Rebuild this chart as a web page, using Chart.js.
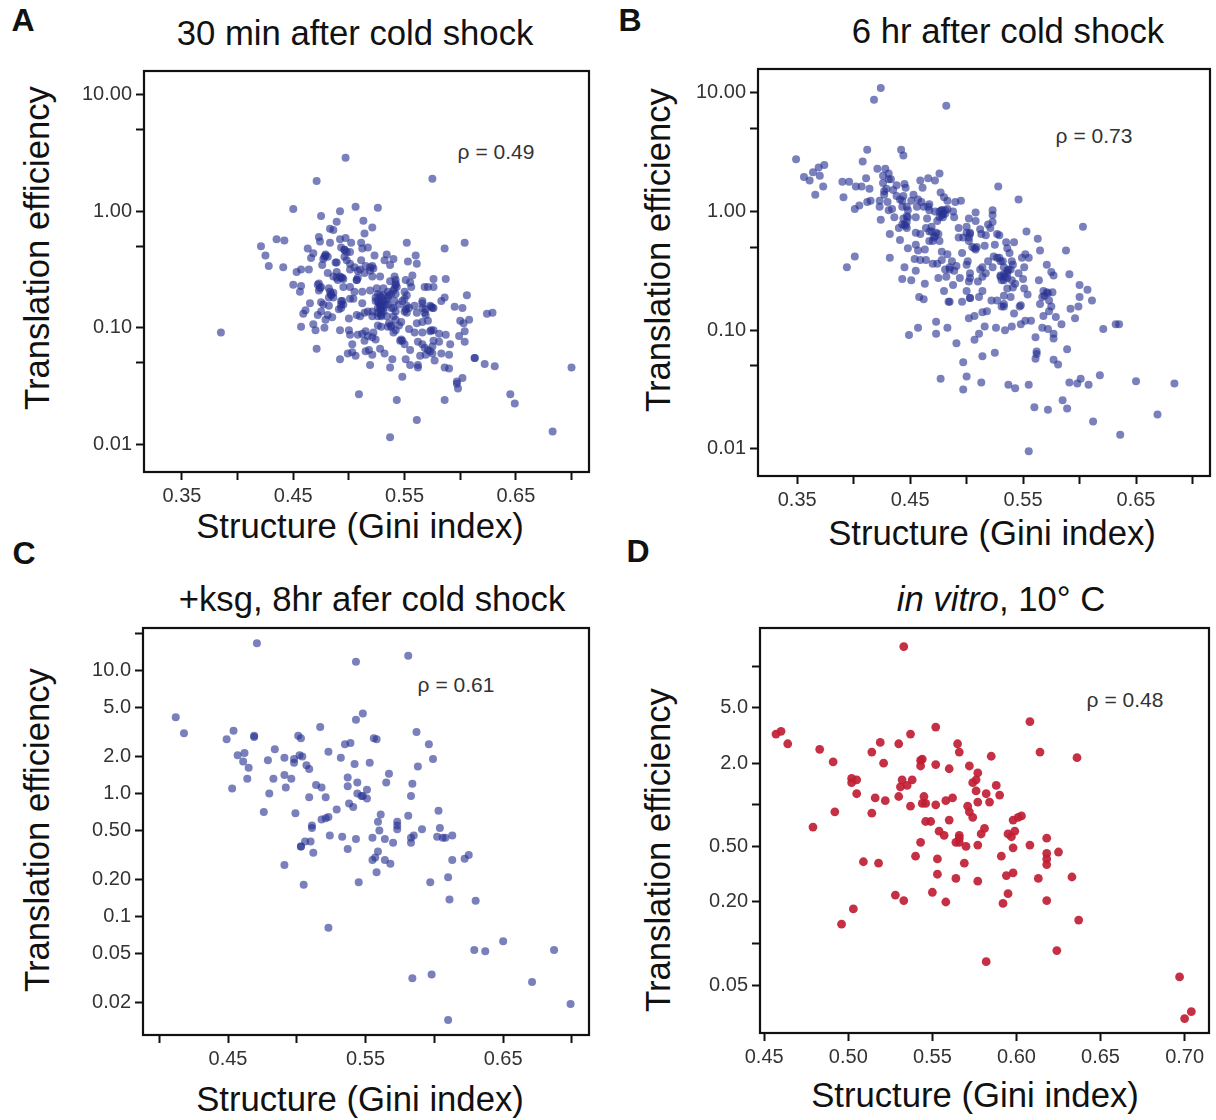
<!DOCTYPE html>
<html>
<head>
<meta charset="utf-8">
<script src="https://cdn.jsdelivr.net/npm/chart.js@4"></script>
<style>
  html, body { margin: 0; padding: 0; background: #fff; }
  body { position: relative; width: 1216px; height: 1120px; overflow: hidden; font-family: "Liberation Sans", Arial, sans-serif; color: #111; }
  canvas { position: absolute; }
  .txt { position: absolute; white-space: nowrap; transform: translate(-50%, -50%); }
  .letter { font-size: 32px; font-weight: bold; }
  .big { font-size: 34.7px; }
  .side { font-size: 34.7px; transform: translate(-50%, -50%) rotate(-90deg); }
  .rho { font-size: 21px; color: #333; }
</style>
</head>
<body>
<div class="txt letter" style="left:23px;top:20px">A</div>
<div class="txt letter" style="left:630px;top:20px">B</div>
<div class="txt letter" style="left:24px;top:553px">C</div>
<div class="txt letter" style="left:638px;top:551px">D</div>

<div class="txt big" style="left:355px;top:33px">30 min after cold shock</div>
<div class="txt big" style="left:1008px;top:31px">6 hr after cold shock</div>
<div class="txt big" style="left:372px;top:599px">+ksg, 8hr afer cold shock</div>
<div class="txt big" style="left:1001px;top:599px"><i>in vitro</i>, 10° C</div>

<div class="txt big" style="left:360px;top:526px">Structure (Gini index)</div>
<div class="txt big" style="left:992px;top:533px">Structure (Gini index)</div>
<div class="txt big" style="left:360px;top:1099px">Structure (Gini index)</div>
<div class="txt big" style="left:975px;top:1095px">Structure (Gini index)</div>

<div class="txt side" style="left:37px;top:248px">Translation efficiency</div>
<div class="txt side" style="left:658px;top:250px">Translation efficiency</div>
<div class="txt side" style="left:37px;top:830px">Translation efficiency</div>
<div class="txt side" style="left:658px;top:850px">Translation efficiency</div>

<div class="txt rho" style="left:496px;top:152px">ρ = 0.49</div>
<div class="txt rho" style="left:1094px;top:136px">ρ = 0.73</div>
<div class="txt rho" style="left:456px;top:685px">ρ = 0.61</div>
<div class="txt rho" style="left:1125px;top:700px">ρ = 0.48</div>

<canvas id="chartA"></canvas>
<canvas id="chartB"></canvas>
<canvas id="chartC"></canvas>
<canvas id="chartD"></canvas>

<script>
// values: Gini index, and log10 of translation efficiency
const giniA = [
  .385,.497,.471,.575,.450,.492,.506,.526,.475,.489,.513,.521,.514,.483,.486,.473,.474,.483,.492,.497,
  .502,.511,.517,.512,.463,.468,.466,.421,.435,.442,.425,.428,.441,.453,.457,.464,.450,.457,.456,.465,
  .461,.459,.457,.468,.470,.478,.471,.492,.500,.501,.492,.503,.499,.503,.506,.509,.519,.515,.518,.521,
  .528,.532,.539,.537,.543,.537,.548,.551,.555,.562,.562,.561,.586,.586,.590,.597,.597,.602,.598,.613,
  .613,.622,.631,.645,.649,.683,.700,.606,.587,.576,.604,.586,.552,.560,.553,.561,.534,.540,.537,.532,
  .523,.583,.586,.595,.602,.624,.629,.608,.600,.603,.604,.599,.604,.591,.587,.581,.576,.573,
  .479,.477,.481,.476,.489,.488,.496,.498,.501,.493,.496,.501,.505,.511,.515,.519,.522,.510,
  .481,.489,.493,.489,.495,.486,.508,.507,.514,.521,.528,.541,.542,.537,.551,.557,.555,
  .473,.474,.473,.482,.484,.486,.482,.495,.501,.505,.512,.519,.525,.531,.535,.542,.543,.542,.536,.550,.552,.556,.568,.571,.576,.493,.501,.504,
  .475,.477,.482,.475,.472,.481,.485,.495,.493,.491,.507,.512,.517,.514,.521,.524,.529,.531,.528,.535,.538,.542,.545,.550,.552,.554,.552,.559,.566,.566,.574,.575,.561,.569,
  .479,.500,.510,.521,.526,.529,.531,.540,.542,.547,.561,.566,.571,.526,.529,.535,.538,.542,.540,.545,.554,.559,.566,.574,.515,.512,.522,
  .508,.514,.521,.524,.546,.548,.550,.555,.562,.566,.568,.571,.575,.564,.569,.573,.577,.583,.590,.576,.581,.575,
  .526,.529,.531,.526,.529,.526,.529,.535,.538,.540,
  .478,.479,.492,.490,.494,.472,.475,.483,.484,.486,.493,.494,.524,.528,.531,.527,.529,.532,.534,.528,.529,.526,.534,.540,.541,.542,.541,.548,.551,.566,.569,.573,.576,.568,.550,.507,.508,.501,.498,.496,.521,.519,.547,.517,.538,.536
];
const logEffA = [
  -1.04,.46,.26,.28,.02,.00,.04,.03,-.04,-.09,-.08,-.14,-.19,-.15,-.16,-.22,-.26,-.27,-.24,-.23,
  -.27,-.27,-.31,-.32,-.32,-.36,-.40,-.30,-.24,-.25,-.38,-.47,-.48,-.52,-.50,-.50,-.63,-.64,-.69,-.79,
  -.85,-.88,-.99,-.97,-1.02,-1.00,-1.18,-1.02,-1.02,-1.06,-1.27,-1.14,-1.22,-1.21,-1.24,-1.57,-1.32,-1.20,-1.19,-1.23,
  -1.18,-1.22,-1.27,-1.34,-1.62,-1.94,-1.42,-1.27,-1.32,-1.34,-1.32,-1.79,-1.62,-1.34,-1.35,-1.48,-1.46,-1.43,-1.52,-1.26,
  -1.26,-1.31,-1.33,-1.57,-1.65,-1.89,-1.34,-.72,-.58,-.58,-.27,-.32,-.27,-.38,-.43,-.45,-.37,-.41,-.46,-.42,
  -.38,-.77,-.74,-.82,-.83,-.88,-.87,-.93,-.94,-.96,-1.03,-1.07,-1.12,-1.14,-1.06,-1.05,-1.02,-1.03,
  -.38,-.41,-.39,-.46,-.44,-.44,-.33,-.35,-.35,-.31,-.39,-.45,-.48,-.42,-.47,-.48,-.49,-.50,
  -.53,-.52,-.57,-.57,-.58,-.56,-.57,-.59,-.53,-.56,-.56,-.56,-.59,-.60,-.59,-.55,-.61,
  -.62,-.66,-.68,-.66,-.71,-.74,-.74,-.65,-.65,-.69,-.69,-.68,-.66,-.66,-.69,-.63,-.65,-.71,-.72,-.69,-.72,-.65,-.65,-.65,-.65,-.77,-.75,-.75,
  -.78,-.80,-.81,-.86,-.89,-.89,-.91,-.80,-.83,-.84,-.89,-.79,-.86,-.87,-.86,-.77,-.78,-.83,-.81,-.80,-.83,-.86,-.80,-.75,-.81,-.83,-.87,-.81,-.77,-.83,-.82,-.83,-.87,-.89,
  -.93,-.92,-.90,-.90,-.90,-.90,-.86,-.90,-.93,-.95,-.96,-.95,-.94,-.98,-.99,-.99,-.99,-1.02,-1.04,-.98,-1.01,-1.04,-1.04,-1.02,-1.03,-1.05,-1.04,
  -1.06,-1.11,-1.08,-1.10,-1.11,-1.11,-1.14,-1.19,-1.12,-1.14,-1.17,-1.19,-1.16,-1.24,-1.23,-1.20,-1.28,-1.22,-1.23,-1.11,-1.12,-1.22,
  -.71,-.74,-.77,-.77,-.84,-.87,-.87,-.74,-.71,-.68,
  -.39,-.37,-.56,-.59,-.57,-.63,-.65,-.69,-.72,-.70,-.80,-.77,-.74,-.72,-.72,-.79,-.81,-.80,-.77,-.84,-.89,-.83,-.90,-.83,-.77,-.62,-.66,-.77,-.84,-.79,-.84,-.81,-.83,-.87,-.86,-.59,-.51,-.50,-.42,-.33,-.47,-.51,-1.10,-1.07,-.98,-.96
];

const giniB = [
  .424,.418,.482,.442,.444,.412,.408,.349,.356,.361,.364,.369,.374,.370,.373,.366,.390,.396,.402,.407,
  .411,.414,.391,.401,.405,.412,.415,.394,.401,.432,.421,.428,.426,.431,.433,.426,.438,.435,.427,.423,
  .423,.430,.431,.434,.424,.436,.432,.441,.448,.459,.461,.466,.472,.476,.445,.446,.444,.441,.453,.457,
  .460,.466,.467,.477,.480,.483,.490,.495,.443,.448,.447,.444,.446,.440,.455,.465,.474,.478,.481,.476,
  .483,.488,.489,.479,.469,.467,.464,.473,.467,.471,.455,.459,.455,.457,.463,.454,.459,.464,.470,.474,
  .478,.478,.483,.445,.455,.443,.451,.463,.458,.462,.475,.482,.480,.488,.484,.485,.494,.485,.487,.491,
  .489,.496,.501,.500,.493,.497,.493,.500,.502,.508,.508,.512,.517,.513,.503,.502,.505,.508,.516,.525,
  .523,.523,.523,.519,.521,.527,.529,.528,.546,.603,.553,.563,.565,.588,.535,.542,.536,.538,.552,.555,
  .549,.551,.571,.575,.577,.591,.564,.550,.546,.540,.530,.524,.519,.527,.532,.514,.517,.523,.537,.533,
  .530,.536,.503,.503,.502,.510,.500,.514,.503,.511,.496,.522,.527,.533,.531,.533,.539,.536,.541,.543,
  .551,.554,.547,.542,.568,.567,.572,.576,.573,.575,.573,.565,.568,.579,.584,.592,.599,.600,.600,.607,
  .611,.596,.621,.632,.635,.552,.557,.548,.540,.534,.526,.516,.511,.507,.507,.502,.514,.518,.473,.457,
  .449,.473,.483,.491,.567,.572,.577,.577,.561,.589,.562,.562,.561,.577,.581,.497,.514,.525,.477,.500,
  .513,.497,.537,.543,.555,.591,.598,.601,.608,.618,.650,.684,.585,.589,.560,.572,.612,.669,.636,.555,
  .478,.479,.481,.478,.476,.530,.533,.539,.536,.447,.445,
  .431,.429,.427,.438,.443,.447,.451,.456,.462,.467,.472,.443,.447,.448,.469,.472,.475,.470,.500,.503,.502,.507,.509,.512,.514,.533,.536,.531,.534,.529,.541,.569,.571,.503,.485,.481,.476,.540,.533,.548
];
const logEffB = [
  1.04,.94,.89,.52,.47,.52,.42,.44,.29,.26,.33,.37,.39,.30,.21,.14,.25,.25,.21,.21,
  .28,.19,.12,.02,.05,.08,.09,-.47,-.38,-.39,.36,.36,.30,.32,.27,.24,.22,.18,.17,.09,
  .04,.08,.01,.02,-.07,-.05,-.19,-.24,-.31,.26,.20,.28,.26,.32,.23,.20,.13,.10,.14,.10,
  .08,.04,.06,.16,.12,.09,.08,.09,.04,.01,-.04,-.06,-.12,-.14,-.05,-.06,-.08,.01,-.02,.00,
  .02,.00,-.05,-.05,-.13,-.17,-.14,-.18,-.25,-.22,-.18,-.19,-.28,-.33,-.32,-.40,-.41,-.41,-.44,-.44,
  -.41,-.34,-.36,-.47,-.50,-.57,-.58,-.61,-.72,-.74,-.56,-.55,-.67,-.62,-.76,-.76,-.56,-.49,-.42,-.46,
  -.50,-.35,-.42,-.45,-.22,-.22,-.14,-.13,-.06,-.01,-.08,-.15,-.20,-.19,-.18,-.25,-.30,-.32,-.29,-.28,
  .01,-.03,-.09,-.11,-.14,-.19,-.20,.21,.10,-.13,-.17,-.23,-.33,-.33,-.26,-.26,-.31,-.35,-.36,-.39,
  -.39,-.47,-.45,-.51,-.54,-.53,-.58,-.57,-.52,-.42,-.42,-.38,-.42,-.39,-.42,-.47,-.52,-.47,-.49,-.53,
  -.54,-.56,-.52,-.56,-.59,-.59,-.67,-.67,-.73,-.72,-.76,-.75,-.75,-.71,-.80,-.80,-.72,-.65,-.64,-.61,
  -.65,-.70,-.80,-.86,-.67,-.72,-.69,-.68,-.75,-.80,-.84,-.78,-.88,-.89,-.95,-.82,-.80,-.72,-.62,-.66,
  -.75,-.90,-.99,-.95,-.95,-.92,-.92,-.95,-.97,-1.00,-.98,-.97,-1.03,-1.08,-.88,-.90,-.85,-.84,-.93,-.98,
  -1.04,-1.03,-.98,-1.11,-.98,-.99,-1.03,-1.07,-1.06,-1.16,-1.18,-1.20,-1.24,-1.25,-1.29,-1.27,-1.22,-1.19,-1.41,-1.39,
  -1.44,-1.50,-1.46,-1.49,-1.46,-1.44,-1.45,-1.41,-1.46,-1.38,-1.43,-1.45,-1.59,-1.66,-1.65,-1.67,-1.77,-1.71,-1.88,-2.02,
  .01,-.02,.01,-.03,-.05,-.55,-.58,-.49,-.50,-.14,-.11,
  .27,.19,.14,.13,.09,.04,.09,.04,.04,.01,.00,-.11,-.09,-.05,-.17,-.21,-.19,-.25,-.18,-.19,-.22,-.31,-.30,-.49,-.55,-.47,-.52,-.58,-.55,-.39,-.45,-.71,-.68,-.73,-.47,-.49,-.25,-.58,-.78,-.79
];

const giniC = [
  .471,.543,.581,.412,.418,.449,.454,.469,.469,.517,.548,.543,.501,.503,.535,.539,.556,.558,.587,.596,
  .599,.588,.457,.462,.461,.465,.464,.453,.484,.479,.491,.498,.498,.502,.504,.507,.509,.523,.532,.542,
  .553,.483,.491,.496,.492,.480,.476,.499,.514,.518,.509,.521,.537,.537,.544,.567,.565,.551,.544,.547,
  .548,.551,.584,.583,.529,.538,.541,.523,.521,.518,.511,.511,.561,.559,.573,.573,.573,.560,.581,.603,
  .604,.591,.613,.602,.606,.608,.585,.583,.583,.524,.533,.543,.555,.564,.570,.537,.559,.510,.506,.503,
  .503,.512,.491,.557,.555,.564,.568,.558,.545,.505,.622,.625,.613,.610,.597,.611,.630,.523,.629,.637,
  .650,.687,.598,.584,.671,.699,.610
];
const logEffC = [
  1.22,1.07,1.12,.62,.49,.44,.51,.47,.46,.54,.65,.60,.47,.45,.40,.41,.45,.44,.50,.40,
  .28,.22,.31,.33,.26,.21,.12,.04,.36,.27,.29,.28,.25,.31,.30,.23,.20,.34,.29,.24,
  .25,.12,.15,.12,.05,.00,-.15,-.16,.07,.05,-.03,-.03,.13,.06,.09,.16,.09,.03,.00,-.02,
  -.02,-.04,.08,-.02,-.13,-.08,-.11,-.19,-.20,-.21,-.26,-.28,-.17,-.23,-.23,-.26,-.29,-.30,-.18,-.14,
  -.28,-.29,-.34,-.35,-.36,-.36,-.34,-.36,-.40,-.34,-.35,-.37,-.36,-.37,-.40,-.45,-.47,-.39,-.39,-.43,
  -.43,-.48,-.58,-.52,-.54,-.54,-.57,-.64,-.72,-.74,-.53,-.50,-.54,-.68,-.72,-.86,-.87,-1.09,-1.27,-1.28,
  -1.20,-1.27,-1.47,-1.50,-1.53,-1.71,-1.84
];

const giniD = [
  .533,.608,.552,.537,.457,.460,.464,.483,.491,.514,.519,.521,.530,.565,.566,.585,.614,.636,.552,.543,
  .544,.543,.560,.572,.577,.576,.574,.502,.502,.505,.505,.516,.522,.532,.531,.535,.538,.530,.545,.544,
  .546,.552,.558,.562,.576,.577,.582,.588,.590,.584,.537,.492,.514,.479,.571,.572,.574,.546,.549,.560,
  .554,.557,.581,.579,.598,.601,.603,.566,.566,.564,.566,.543,.570,.577,.595,.599,.597,.618,.608,.598,
  .618,.625,.618,.618,.591,.540,.553,.509,.518,.569,.553,.564,.577,.594,.598,.613,.633,.528,.533,.550,
  .558,.595,.592,.618,.503,.496,.637,.624,.582,.697,.700,.704
];
const logEffD = [
  1.14,.60,.56,.51,.51,.53,.44,.40,.31,.38,.45,.30,.44,.44,.38,.35,.38,.34,.29,.32,
  .33,.28,.26,.28,.23,.18,.16,.19,.16,.18,.08,.05,.03,.18,.13,.14,.18,.06,.06,.01,
  .01,.00,.03,.05,.10,.02,.08,.14,.07,.02,-.01,-.05,-.06,-.16,-.01,-.05,-.09,-.12,-.12,-.11,
  -.19,-.22,-.17,-.21,-.11,-.09,-.08,-.22,-.24,-.27,-.27,-.27,-.30,-.29,-.21,-.19,-.23,-.24,-.29,-.31,
  -.35,-.34,-.39,-.43,-.37,-.37,-.39,-.41,-.42,-.42,-.50,-.53,-.55,-.51,-.49,-.53,-.52,-.65,-.69,-.63,
  -.70,-.64,-.71,-.69,-.75,-.86,-.83,-1.05,-1.13,-1.24,-1.54,-1.49
];

// tick positions and what is printed at them ('' = bare tick mark)
const xTicksA = [.35, .40, .45, .50, .55, .60, .65, .70];
const xLabelsA = ['0.35', '', '0.45', '', '0.55', '', '0.65', ''];
const yTicksA = [10, 5, 1, .5, .1, .05, .01];
const yLabelsA = ['10.00', '', '1.00', '', '0.10', '', '0.01'];
const xTicksC = [.40, .45, .50, .55, .60, .65, .70];
const xLabelsC = ['', '0.45', '', '0.55', '', '0.65', ''];
const yTicksC = [20, 10, 5, 2, 1, .5, .2, .1, .05, .02];
const yLabelsC = ['', '10.0', '5.0', '2.0', '1.0', '0.50', '0.20', '0.1', '0.05', '0.02'];
const xTicksD = [.45, .50, .55, .60, .65, .70];
const xLabelsD = ['0.45', '0.50', '0.55', '0.60', '0.65', '0.70'];
const yTicksD = [10, 5, 2, 1, .5, .2, .1, .05];
const yLabelsD = ['', '5.0', '2.0', '', '0.50', '0.20', '', '0.05'];

const BLUE = 'rgba(40, 50, 145, 0.62)';
const RED = 'rgba(192, 30, 52, 0.92)';
const GUTTER_LEFT = 70, GUTTER_BOTTOM = 45, GUTTER_EDGE = 6;

// chart.js only draws the left and bottom axis lines, so close the box here
const boxPlugin = {
  id: 'box',
  afterDraw(chart) {
    const a = chart.chartArea, c = chart.ctx;
    c.save();
    c.strokeStyle = '#111';
    c.lineWidth = 2.2;
    c.strokeRect(a.left, a.top, a.right - a.left, a.bottom - a.top);
    c.restore();
  }
};

function tickOptions(values, labels) {
  return {
    afterBuildTicks: s => { s.ticks = values.map(v => ({ value: v })); },
    ticks: {
      autoSkip: false,
      maxRotation: 0,
      minRotation: 0,
      padding: 4,
      color: '#333',
      font: { family: '"Liberation Sans", Arial, sans-serif', size: 20 },
      callback: v => labels[values.findIndex(t => Math.abs(t - v) < 1e-6)]
    },
    grid: { drawOnChartArea: false, drawTicks: true, tickLength: 8, tickWidth: 2, tickColor: '#111' },
    border: { display: true, color: '#111', width: 2 }
  };
}

// fixed gutters, and no extra room for half a tick label, so the plot box lands where asked
function fixGutter(s, size) {
  if (s.isHorizontal()) s.height = size; else s.width = size;
  s.paddingLeft = s.paddingRight = s.paddingTop = s.paddingBottom = 0;
}

function drawPanel(p) {
  const canvas = document.getElementById(p.id);
  const w = p.right - p.left, h = p.bottom - p.top;
  canvas.width = w + GUTTER_LEFT + GUTTER_EDGE;
  canvas.height = h + GUTTER_EDGE + GUTTER_BOTTOM;
  canvas.style.left = (p.left - GUTTER_LEFT) + 'px';
  canvas.style.top = (p.top - GUTTER_EDGE) + 'px';

  new Chart(canvas, {
    type: 'scatter',
    data: {
      datasets: [{
        data: p.gini.map((g, i) => ({ x: g, y: Math.pow(10, p.logEff[i]) })),
        backgroundColor: p.color,
        borderWidth: 0,
        pointRadius: p.radius,
        pointHoverRadius: p.radius
      }]
    },
    options: {
      responsive: false,
      animation: false,
      layout: { padding: { top: GUTTER_EDGE, right: GUTTER_EDGE, left: 0, bottom: 0 } },
      plugins: { legend: { display: false }, tooltip: { enabled: false } },
      scales: {
        x: Object.assign({ type: 'linear', min: p.xMin, max: p.xMax,
          afterFit: s => fixGutter(s, GUTTER_BOTTOM) }, tickOptions(p.xTicks, p.xLabels)),
        y: Object.assign({ type: 'logarithmic', min: p.yMin, max: p.yMax,
          afterFit: s => fixGutter(s, GUTTER_LEFT) }, tickOptions(p.yTicks, p.yLabels))
      }
    },
    plugins: [boxPlugin]
  });
}

drawPanel({ id: 'chartA', left: 144, right: 589, top: 71, bottom: 472,
  gini: giniA, logEff: logEffA, color: BLUE, radius: 4,
  xMin: .3159, xMax: .7157, yMin: .00579, yMax: 16.0,
  xTicks: xTicksA, xLabels: xLabelsA, yTicks: yTicksA, yLabels: yLabelsA });
drawPanel({ id: 'chartB', left: 758, right: 1210, top: 69, bottom: 476,
  gini: giniB, logEff: logEffB, color: BLUE, radius: 4,
  xMin: .3153, xMax: .7155, yMin: .00591, yMax: 15.83,
  xTicks: xTicksA, xLabels: xLabelsA, yTicks: yTicksA, yLabels: yLabelsA });
drawPanel({ id: 'chartC', left: 143, right: 589, top: 628, bottom: 1035,
  gini: giniC, logEff: logEffC, color: BLUE, radius: 4,
  xMin: .3882, xMax: .7124, yMin: .01094, yMax: 22.1,
  xTicks: xTicksC, xLabels: xLabelsC, yTicks: yTicksC, yLabels: yLabelsC });
drawPanel({ id: 'chartD', left: 760, right: 1209, top: 628, bottom: 1033,
  gini: giniD, logEff: logEffD, color: RED, radius: 4.4,
  xMin: .4475, xMax: .7145, yMin: .0227, yMax: 18.8,
  xTicks: xTicksD, xLabels: xLabelsD, yTicks: yTicksD, yLabels: yLabelsD });
</script>
</body>
</html>
